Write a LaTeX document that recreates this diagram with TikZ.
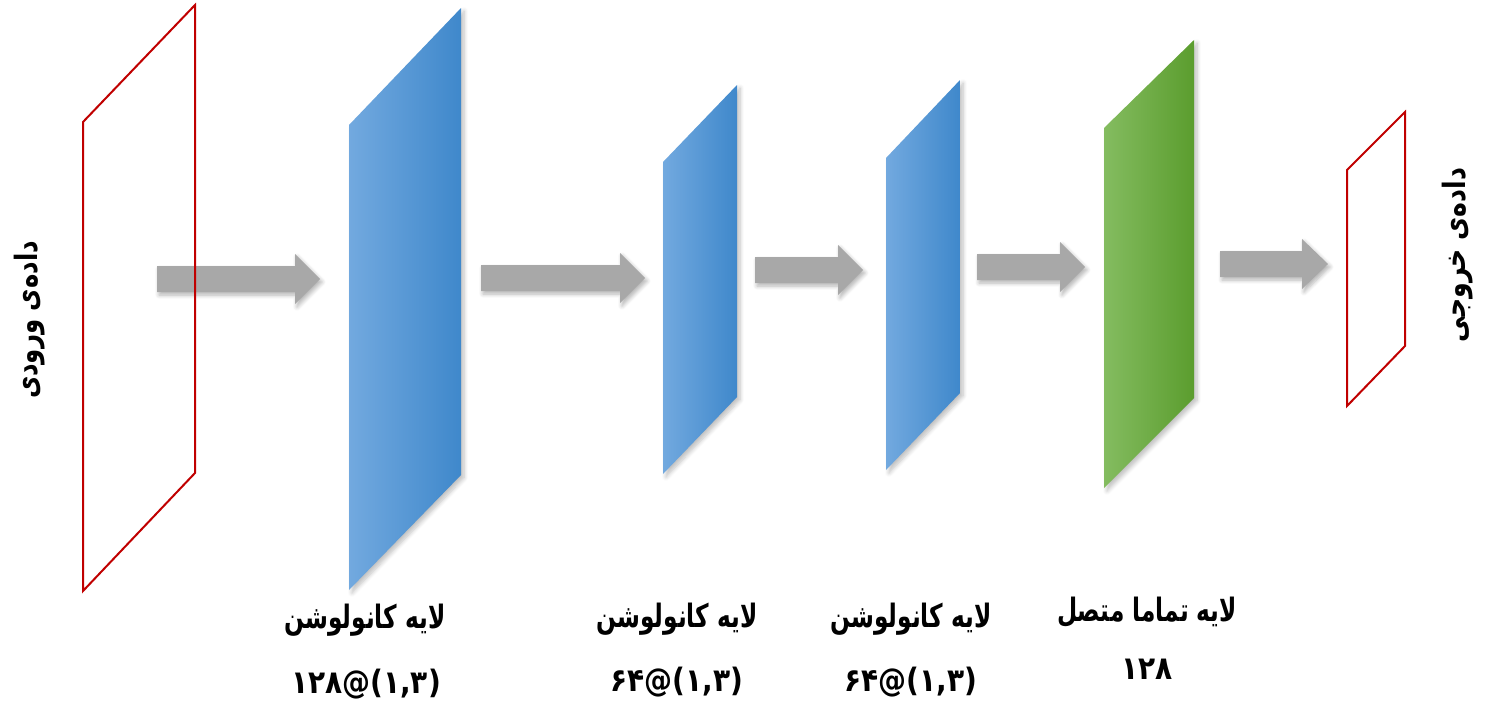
\documentclass[tikz,border=0pt]{standalone}
\usepackage{fontspec}
\TeXXeTstate=1
\newfontfamily\fa[Script=Arabic]{DejaVu Sans}
\usetikzlibrary{shadows,shadows.blur}
\definecolor{redframe}{HTML}{C00000}
\definecolor{blueL}{HTML}{72A9DF}
\definecolor{blueR}{HTML}{3F88CB}
\definecolor{greenL}{HTML}{84BC60}
\definecolor{greenR}{HTML}{5B9D2E}
\definecolor{arrowgray}{HTML}{A8A8A8}
\tikzset{
  frame/.style={draw=redframe, line width=1pt},
  bluelayer/.style={shading=axis, left color=blueL, right color=blueR,
    blur shadow={shadow blur steps=6, shadow opacity=25, shadow xshift=1.5pt, shadow yshift=-1.5pt, shadow blur radius=2pt}},
  greenlayer/.style={shading=axis, left color=greenL, right color=greenR,
    blur shadow={shadow blur steps=6, shadow opacity=25, shadow xshift=1.5pt, shadow yshift=-1.5pt, shadow blur radius=2pt}},
  grayarrow/.style={fill=arrowgray,
    blur shadow={shadow blur steps=6, shadow opacity=30, shadow xshift=1pt, shadow yshift=-1.5pt, shadow blur radius=2pt}},
  lbl/.style={font=\fa\bfseries\fontsize{14}{16}\selectfont, inner sep=0pt},
}
\newcommand\blockarrow[4]{%
  \path[grayarrow] (#1,#3-13) -- (#4,#3-13) -- (#4,#3-25) -- (#2,#3)
    -- (#4,#3+25) -- (#4,#3+13) -- (#1,#3+13) -- cycle;}
\newcommand\fword[1]{\scalebox{0.83}[1.15]{\beginR #1\endR}}
\newcommand\fnum[3]{\scalebox{1.0}[1.15]{\mbox{#1}\mbox{@}\mbox{(#2,#3)}}}
\begin{document}
\begin{tikzpicture}[x=0.5pt,y=-0.5pt]
\useasboundingbox (0,0) rectangle (1487,706);
% layers
\path[bluelayer] (349,125) -- (461,8) -- (461,475) -- (349,590) -- cycle;
\path[bluelayer] (663,162) -- (737,85) -- (737,397) -- (663,474) -- cycle;
\path[bluelayer] (886,158) -- (960,80) -- (960,393) -- (886,470) -- cycle;
\path[greenlayer] (1104,128) -- (1194,40) -- (1194,398) -- (1104,488) -- cycle;
% arrows
\blockarrow{157}{320}{279}{295}
\blockarrow{481}{645}{278}{620}
\blockarrow{755}{863}{270}{838}
\blockarrow{977}{1085}{267}{1060}
\blockarrow{1220}{1328}{264}{1302}
% frames
\draw[frame] (83,122) -- (195,5) -- (195,473) -- (83,591) -- cycle;
\draw[frame] (1347,170) -- (1405,112) -- (1405,346) -- (1347,406) -- cycle;
% labels
\node[lbl, rotate=90] (inlbl) at (30,320) {\scalebox{0.87}[1.1]{\beginR داده‌ی ورودی\endR}};
\node[lbl, rotate=90] (outlbl) at (1458,255) {\scalebox{0.9}[1.1]{\beginR داده‌ی خروجی\endR}};
\node[lbl] (c1a) at (365,620) {\fword{لایه کانولوشن}};
\node[lbl] (c1b) at (366,684) {\fnum{۱۲۸}{۱}{۳}};
\node[lbl] (c2a) at (677,619) {\fword{لایه کانولوشن}};
\node[lbl] (c2b) at (677,682) {\fnum{۶۴}{۱}{۳}};
\node[lbl] (c3a) at (911,619) {\fword{لایه کانولوشن}};
\node[lbl] (c3b) at (911,682) {\fnum{۶۴}{۱}{۳}};
\node[lbl] (fca) at (1147,612) {\fword{لایه تماما متصل}};
\node[lbl] (fcb) at (1147,669) {\scalebox{1.0}[1.15]{۱۲۸}};
\end{tikzpicture}
\end{document}
